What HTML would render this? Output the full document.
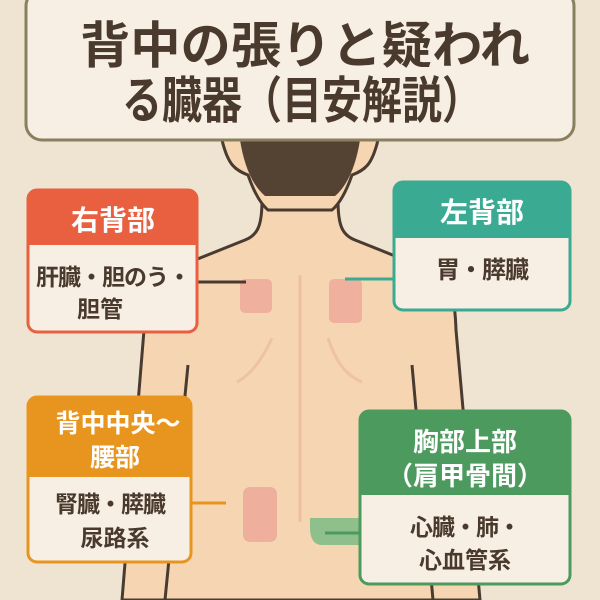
<!DOCTYPE html>
<html><head><meta charset="utf-8"><style>
body{margin:0;width:600px;height:600px;overflow:hidden;background:#efe4d2;font-family:"Liberation Sans","Noto Sans CJK JP",sans-serif}
svg{position:absolute;left:0;top:0}
.t{font-family:"Liberation Sans","Noto Sans CJK JP",sans-serif;font-weight:bold;text-anchor:middle}
</style></head><body>
<svg width="600" height="600" viewBox="0 0 600 600">
<rect width="600" height="600" fill="#efe4d2"/>
<path d="M262,200 C262,225 258,235 245,240 L165,272 C148,282 145,300 144,330 L122,600 L480,600 L456,330 C455,300 452,282 435,272 L355,240 C342,235 338,225 338,200 Z" fill="#f6d5b3" stroke="#4a3b30" stroke-width="3"/>
<path d="M222,140 C228,165 235,170 248,175 C255,195 262,205 268,210 L332,210 C338,205 345,195 352,175 C365,170 372,165 378,140 Z" fill="#f6d5b3" stroke="#4a3b30" stroke-width="3"/>
<path d="M240,140 L360,140 C356,165 348,185 335,196 L265,196 C252,185 244,165 240,140 Z" fill="#544233"/>
<path d="M188,365 L165,600" stroke="#4a3b30" stroke-width="3" fill="none"/>
<path d="M412,365 L433,600" stroke="#4a3b30" stroke-width="3" fill="none"/>
<line x1="300" y1="275" x2="300" y2="522" stroke="#efbfa3" stroke-width="3"/>
<path d="M272,338 C262,360 250,375 237,382" stroke="#efc2a5" stroke-width="3" fill="none"/>
<path d="M328,338 C335,360 345,375 362,382" stroke="#efc2a5" stroke-width="3" fill="none"/>
<rect x="240" y="279" width="32" height="34" rx="5" fill="#efb09d"/>
<rect x="329" y="279" width="33" height="44" rx="5" fill="#efb09d"/>
<rect x="243" y="487" width="34" height="55" rx="7" fill="#eeb09d"/>
<path d="M310,518 L360,518 L360,545 L322,545 C312,545 310,535 310,528 Z" fill="#8fbf8a"/>
<line x1="197" y1="282" x2="246" y2="282" stroke="#4a3b30" stroke-width="3"/>
<line x1="345" y1="279" x2="394" y2="279" stroke="#3aaa93" stroke-width="3"/>
<line x1="192" y1="503" x2="226" y2="503" stroke="#e8951f" stroke-width="3"/>
<line x1="325" y1="533" x2="362" y2="533" stroke="#4c9a5e" stroke-width="3"/>
<rect x="26" y="-10" width="548" height="150" rx="16" fill="#f7efe3" stroke="#8a7f5e" stroke-width="3"/>
<text class="t" x="305" y="63" font-size="50" fill="#4a3a2e" textLength="450" lengthAdjust="spacingAndGlyphs">背中の張りと疑われ</text>
<text class="t" x="302" y="118" font-size="50" fill="#4a3a2e" textLength="360" lengthAdjust="spacingAndGlyphs">る臓器（目安解説）</text>
<rect x="28" y="190" width="169" height="142" rx="9" fill="#f8efe4" stroke="#e8603f" stroke-width="3"/>
<path d="M28,245 L28,199 Q28,190 37,190 L188,190 Q197,190 197,199 L197,245 Z" fill="#e8603f"/>
<text class="t" x="113" y="230" font-size="28" fill="#fff">右背部</text>
<text class="t" x="113" y="285" font-size="23" fill="#4a3a2e" letter-spacing="-1">肝臓・胆のう・</text>
<text class="t" x="100" y="317" font-size="23" fill="#4a3a2e">胆管</text>
<rect x="394" y="182" width="176" height="128" rx="9" fill="#f8efe4" stroke="#3aaa93" stroke-width="3"/>
<path d="M394,238 L394,191 Q394,182 403,182 L561,182 Q570,182 570,191 L570,238 Z" fill="#3aaa93"/>
<text class="t" x="482" y="222" font-size="28" fill="#fff">左背部</text>
<text class="t" x="482" y="278" font-size="24" fill="#4a3a2e" letter-spacing="-1">胃・膵臓</text>
<rect x="28" y="397" width="163" height="165" rx="9" fill="#f8efe4" stroke="#e8951f" stroke-width="3"/>
<path d="M28,477 L28,406 Q28,397 37,397 L182,397 Q191,397 191,406 L191,477 Z" fill="#e8951f"/>
<text class="t" x="118" y="432" font-size="25" fill="#fff">背中中央〜</text>
<text class="t" x="115" y="466" font-size="25" fill="#fff">腰部</text>
<text class="t" x="110" y="512" font-size="23" fill="#4a3a2e" letter-spacing="-1">腎臓・膵臓</text>
<text class="t" x="115" y="546" font-size="23" fill="#4a3a2e">尿路系</text>
<rect x="360" y="411" width="210" height="173" rx="9" fill="#f8efe4" stroke="#4c9a5e" stroke-width="3"/>
<path d="M360,495 L360,420 Q360,411 369,411 L561,411 Q570,411 570,420 L570,495 Z" fill="#4c9a5e"/>
<text class="t" x="465" y="451" font-size="26" fill="#fff">胸部上部</text>
<text class="t" x="465" y="485" font-size="26" fill="#fff">（肩甲骨間）</text>
<text class="t" x="465" y="535" font-size="23" fill="#4a3a2e" letter-spacing="-1">心臓・肺・</text>
<text class="t" x="465" y="568" font-size="23" fill="#4a3a2e">心血管系</text>
</svg>
</body></html>
